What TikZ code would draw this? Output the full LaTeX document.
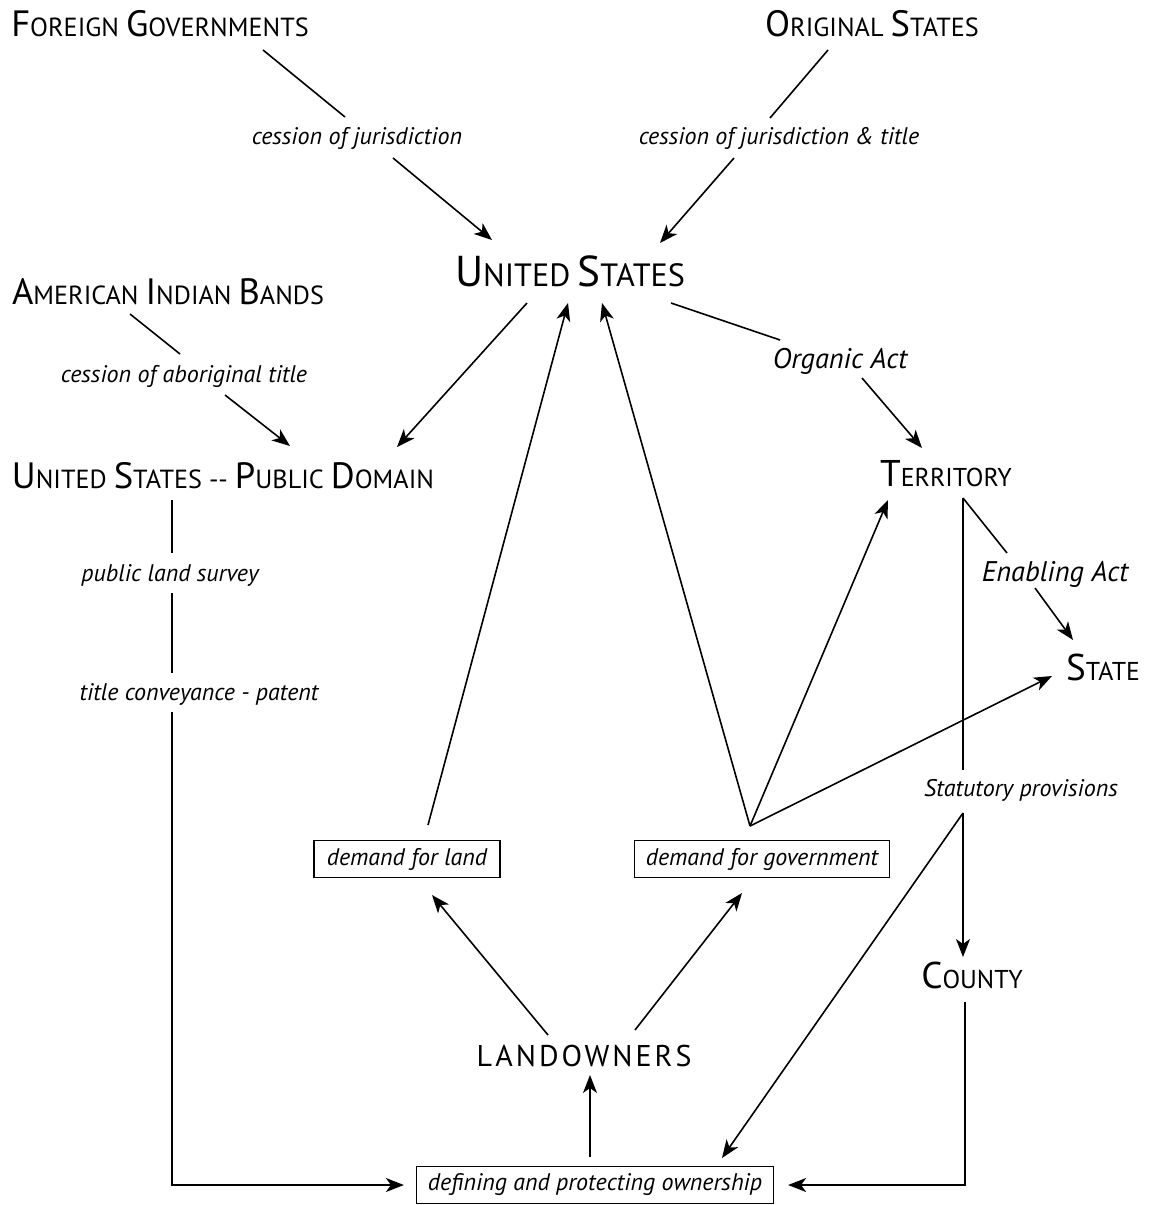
\documentclass[tikz,border=0pt]{standalone}
\usepackage{fontspec}
\setmainfont{PT Sans}
\usetikzlibrary{arrows.meta, calc}
\newcommand{\SCa}[2]{{\fontsize{18.3}{21}\selectfont #1}{\fontsize{13.1}{15}\selectfont #2}}
\newcommand{\SCc}[2]{{\fontsize{18.6}{21}\selectfont #1}{\fontsize{12.9}{15}\selectfont #2}}
\newcommand{\SCb}[2]{{\fontsize{21.6}{25}\selectfont #1}{\fontsize{16.1}{19}\selectfont #2}}

\begin{document}
\begin{tikzpicture}[x=0.5pt, y=-0.5pt, line width=0.8pt,
    head/.style={inner sep=0pt, font=\fontsize{13.1}{15}\selectfont},
    lab/.style={inner sep=0pt, font=\itshape\fontsize{12}{14}\selectfont},
    actlab/.style={inner sep=0pt, font=\itshape\fontsize{14.2}{16}\selectfont},
    boxed/.style={draw, line width=0.6pt, inner sep=0pt, minimum height=18.5pt, font=\itshape\fontsize{12}{14}\selectfont},
    arr/.style={-{Stealth[length=9pt, width=7pt, inset=2.5pt]}}]
    \useasboundingbox (0,0) rectangle (1152,1205);
    \node[head] (fg) at (160,24) {\SCa{F}{OREIGN} \SCa{G}{OVERNMENTS}};
    \node[head] (os) at (872,24) {\SCa{O}{RIGINAL} \SCa{S}{TATES}};
    \node[head] (us) at (570,271) {\SCb{U}{NITED} \SCb{S}{TATES}};
    \node[head] (aib) at (168,291.5) {\SCa{A}{MERICAN} \SCa{I}{NDIAN} \SCa{B}{ANDS}};
    \node[head] (pd) at (223,476) {\SCa{U}{NITED} \SCa{S}{TATES} -{}- \SCa{P}{UBLIC} \SCa{D}{OMAIN}};
    \node[head] (terr) at (946,474) {\SCc{T}{ERRITORY}};
    \node[head] (state) at (1103,667.5) {\SCc{S}{TATE}};
    \node[head] (county) at (972,975) {\SCc{C}{OUNTY}};
    \node[head, font=\fontsize{15}{17}\selectfont] (land) at (584,1056) {\addfontfeature{LetterSpace=10}LANDOWNERS};
    \node[boxed, minimum width=93pt] (dland) at (407,859) {demand for land};
    \node[boxed, minimum width=127.5pt] (dgov) at (762,859) {demand for government};
    \node[boxed, minimum width=178.5pt] (own) at (595,1185) {defining and protecting ownership};
    \node[lab] (l1) at (357,138) {cession of jurisdiction};
    \node[lab] (l2) at (779,138) {cession of jurisdiction \& title};
    \node[lab] (l3) at (184,376) {cession of aboriginal title};
    \node[actlab] (l4) at (840,361) {Organic Act};
    \node[actlab] (l5) at (1055,574) {Enabling Act};
    \node[lab] (l6) at (170,575) {public land survey};
    \node[lab] (l7) at (199,694) {title conveyance - patent};
    \node[lab] (l8) at (1021,790) {Statutory provisions};
    \coordinate (split) at ($(l8)+(-58,23)$);
    \coordinate (apex) at ($(dgov)+(-12,-33)$);
    \draw ($(fg)+(103,26)$) -- ($(l1)+(-12,-21)$);
    \draw[arr] ($(l1)+(36,20)$) -- ($(us)+(-78,-31)$);
    \draw ($(os)+(-44,26)$) -- ($(l2)+(-9,-20)$);
    \draw[arr] ($(l2)+(-45,20)$) -- ($(us)+(90,-28)$);
    \draw ($(aib)+(-38,22.5)$) -- ($(l3)+(-4,-22)$);
    \draw[arr] ($(l3)+(41,19)$) -- ($(pd)+(67,-30)$);
    \draw[arr] ($(us)+(-43,32)$) -- ($(pd)+(174,-29)$);
    \draw ($(us)+(101,32)$) -- ($(l4)+(-60,-21)$);
    \draw[arr] ($(l4)+(22,17)$) -- ($(terr)+(-24,-26)$);
    \draw ($(terr)+(17,24)$) -- ($(l5)+(-48,-21)$);
    \draw[arr] ($(l5)+(-20,14)$) -- ($(state)+(-30,-27.5)$);
    \draw ($(terr)+(17,24)$) -- ($(l8)+(-58,-20)$);
    \draw[arr] (split) -- ($(county)+(-9,-18)$);
    \draw[arr] (split) -- ($(own)+(127,-27)$);
    \draw[arr] ($(county)+(-7,27)$) |- ($(own.east)+(14,0)$);
    \draw ($(pd)+(-51,24)$) -- ($(l6)+(2,-22)$);
    \draw ($(l6)+(2,18)$) -- ($(l7)+(-27,-21)$);
    \draw[arr] ($(l7)+(-27,18)$) |- ($(own.west)+(-12,0)$);
    \draw[arr] ($(own.north)+(-5,-9)$) -- ($(land)+(6,19)$);
    \draw[arr] ($(land)+(-36,-21)$) -- ($(dland)+(25,36)$);
    \draw[arr] ($(land)+(51,-26)$) -- ($(dgov)+(-20,34)$);
    \draw[arr] ($(dland)+(21,-34)$) -- ($(us)+(-2,32)$);
    \draw[arr] (apex) -- ($(us)+(32,32)$);
    \draw[arr] (apex) -- ($(terr)+(-58,26)$);
    \draw[arr] (apex) -- ($(state)+(-51,8.5)$);
\end{tikzpicture}
\end{document}
